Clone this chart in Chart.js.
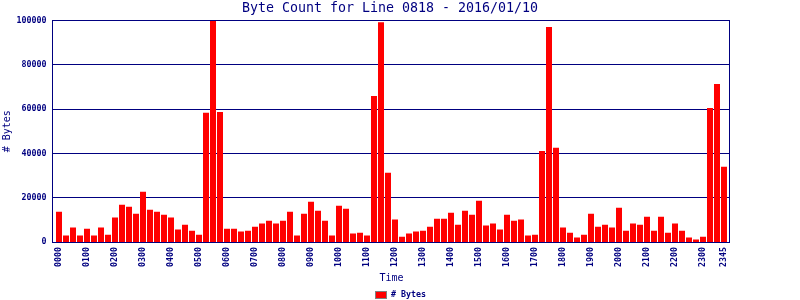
<!DOCTYPE html>
<html>
<head>
<meta charset="utf-8">
<script src="https://cdn.jsdelivr.net/npm/chart.js@4"></script>
<style>
  body { margin: 0; background: #fff; }
  #wrap { width: 800px; height: 300px; }
</style>
</head>
<body>
<div id="wrap"><canvas id="byteChart" width="800" height="300"></canvas></div>
<script>
// 15-minute slots of the day
const times = [];
for (let h = 0; h < 24; h++) {
    for (const m of ['00', '15', '30', '45']) {
        times.push(String(h).padStart(2, '0') + m);
    }
}

// labels shown under the x axis
const hourTicks = ['0000', '0100', '0200', '0300', '0400', '0500', '0600', '0700',
    '0800', '0900', '1000', '1100', '1200', '1300', '1400', '1500', '1600', '1700',
    '1800', '1900', '2000', '2100', '2200', '2300', '2345'];

// byte counts per slot
const bytes = [
    13700, 2900, 6500, 2900, 6000, 2900, 6500, 3300,
    11000, 16800, 15900, 12800, 22700, 14600, 13700, 12300,
    11000, 5600, 7800, 5100, 3300, 58300, 100000, 58700,
    6000, 6000, 4700, 5100, 6900, 8300, 9600, 8300,
    9600, 13700, 2900, 12800, 18200, 14100, 9600, 2900,
    16400, 15000, 3800, 4200, 2900, 65900, 99200, 31200,
    10100, 2400, 3800, 4700, 5100, 6900, 10500, 10500,
    13200, 7800, 14100, 12300, 18600, 7400, 8300, 5600,
    12300, 9600, 10100, 2900, 3300, 41100, 97000, 42500,
    6500, 4200, 2000, 3300, 12800, 6900, 7800, 6500,
    15500, 5100, 8300, 7800, 11400, 5100, 11400, 4200,
    8300, 5100, 2000, 1100, 2400, 60500, 71300, 33900
];

const navy = '#000080';
const mono = 'DejaVu Sans Mono';

// plot frame sits a little outside the bar area
const frameLeft = 3.5, frameRight = 2.5;

// horizontal grid lines (behind bars) and the frame (on top)
const plotFrame = {
    id: 'plotFrame',
    beforeDatasetsDraw(chart) {
        const {ctx, chartArea, scales} = chart;
        const x0 = Math.floor(chartArea.left - frameLeft) + 0.5;
        const x1 = Math.floor(chartArea.right + frameRight) - 0.5;
        ctx.save();
        ctx.strokeStyle = navy;
        ctx.lineWidth = 1;
        ctx.beginPath();
        scales.y.ticks.forEach(t => {
            const py = Math.floor(scales.y.getPixelForValue(t.value)) + 0.5;
            ctx.moveTo(x0, py);
            ctx.lineTo(x1, py);
        });
        ctx.stroke();
        ctx.restore();
    },
    afterDatasetsDraw(chart) {
        const {ctx, chartArea} = chart;
        const x0 = Math.floor(chartArea.left - frameLeft) + 0.5;
        const x1 = Math.floor(chartArea.right + frameRight) - 0.5;
        const y0 = Math.floor(chartArea.top) + 0.5;
        const y1 = Math.floor(chartArea.bottom) + 0.5;
        ctx.save();
        ctx.strokeStyle = navy;
        ctx.lineWidth = 1;
        ctx.strokeRect(x0, y0, x1 - x0, y1 - y0);
        ctx.restore();
    }
};

// small legend drawn under the axis title
const legendBelow = {
    id: 'legendBelow',
    afterDraw(chart) {
        const ctx = chart.ctx;
        const ds = chart.data.datasets[0];
        ctx.save();
        ctx.font = 'bold 8.3px "' + mono + '"';
        const tw = ctx.measureText(ds.label).width;
        const boxW = 12, boxH = 8, gap = 4;
        const x0 = Math.round(chart.width / 2 - (boxW + gap + tw) / 2);
        const y0 = chart.height - 9;
        ctx.fillStyle = ds.backgroundColor;
        ctx.fillRect(x0, y0, boxW, boxH);
        ctx.strokeStyle = '#808080';
        ctx.lineWidth = 1;
        ctx.strokeRect(x0 + 0.5, y0 + 0.5, boxW - 1, boxH - 1);
        ctx.fillStyle = navy;
        ctx.textBaseline = 'middle';
        ctx.fillText(ds.label, x0 + boxW + gap, y0 + boxH / 2);
        ctx.restore();
    }
};

new Chart(document.getElementById('byteChart'), {
    type: 'bar',
    data: {
        labels: times,
        datasets: [{
            label: '# Bytes',
            data: bytes,
            backgroundColor: '#ff0000',
            borderWidth: 0,
            barPercentage: 6 / 7,
            categoryPercentage: 1.0
        }]
    },
    options: {
        responsive: false,
        animation: false,
        layout: { padding: { left: 0, right: 20, top: 0, bottom: 14 } },
        plugins: {
            legend: { display: false },
            tooltip: { enabled: false },
            title: {
                display: true,
                text: 'Byte Count for Line 0818 - 2016/01/10',
                color: navy,
                font: { family: mono, size: 13.3, weight: 'normal' },
                padding: { top: 1, bottom: 3.4 }
            }
        },
        scales: {
            x: {
                grid: { display: false, drawTicks: false },
                border: { display: false },
                ticks: {
                    autoSkip: false,
                    maxRotation: 90,
                    minRotation: 90,
                    padding: 5,
                    color: navy,
                    font: { family: mono, size: 8.3, weight: 'bold' },
                    callback: function (val) {
                        const lab = this.getLabelForValue(val);
                        return hourTicks.includes(lab) ? lab : null;
                    }
                },
                title: {
                    display: true,
                    text: 'Time',
                    color: navy,
                    font: { family: mono, size: 10, weight: 'normal' },
                    padding: { top: 0, bottom: 2 }
                },
                afterFit: (scale) => { scale.height = 44; }
            },
            y: {
                min: 0,
                max: 100000,
                grid: { display: false, drawTicks: false },
                border: { display: false },
                ticks: {
                    stepSize: 20000,
                    padding: 9,
                    color: navy,
                    font: { family: mono, size: 8.3, weight: 'bold' },
                    callback: (v) => String(v)
                },
                title: {
                    display: true,
                    text: '# Bytes',
                    color: navy,
                    font: { family: mono, size: 10, weight: 'normal' },
                    padding: { top: 1.5, bottom: 0 }
                },
                afterFit: (scale) => { scale.width = 55.5; }
            },
            yRight: {
                position: 'right',
                display: true,
                grid: { display: false, drawTicks: false },
                border: { display: false },
                ticks: { display: false },
                afterFit: (scale) => { scale.width = 52.5; }
            }
        }
    },
    plugins: [plotFrame, legendBelow]
});
</script>
</body>
</html>
